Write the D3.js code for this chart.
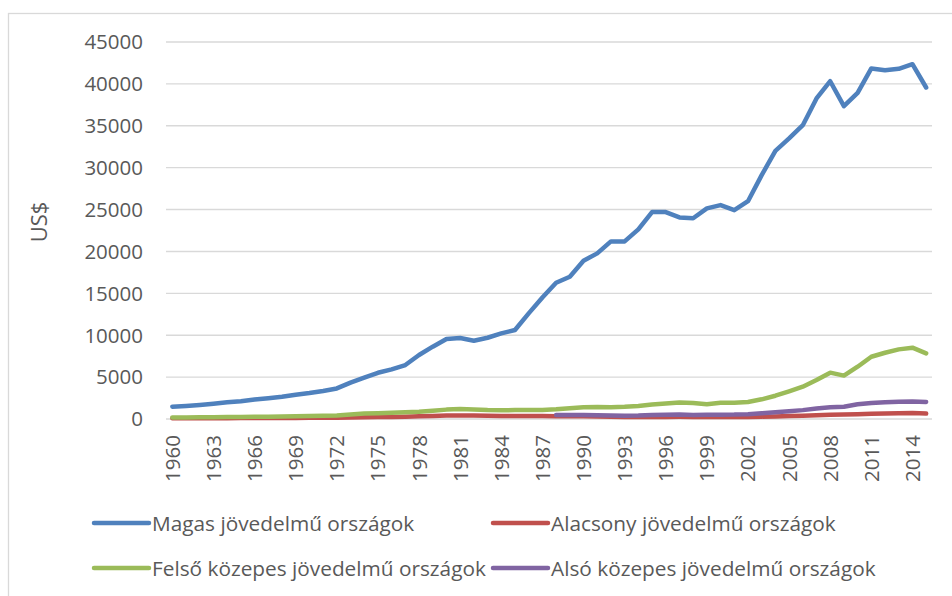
<!DOCTYPE html>
<html>
<head>
<meta charset="utf-8">
<script src="https://cdn.jsdelivr.net/npm/d3@7"></script>
<style>
  body { margin: 0; background: #fff; }
  svg { display: block; font-family: "Open Sans", sans-serif; }
  .tick-label { fill: #595959; font-size: 20.5px; }
  .legend-label { fill: #595959; font-size: 20.8px; }
</style>
</head>
<body>
<div id="chart"></div>
<script>
var years = d3.range(1960, 2016);
var yTicks = [0, 5000, 10000, 15000, 20000, 25000, 30000, 35000, 40000, 45000];

// Magas jövedelmű országok
var highIncome = [1470, 1560, 1680, 1830, 1990, 2130, 2330, 2480, 2650, 2900,
  3100, 3350, 3650, 4350, 4950, 5520, 5930, 6440, 7640, 8630,
  9540, 9660, 9340, 9700, 10220, 10620, 12610, 14500, 16260, 16980,
  18890, 19770, 21200, 21200, 22630, 24700, 24700, 24060, 23960, 25140,
  25530, 24930, 26000, 29110, 32010, 33490, 35070, 38260, 40320, 37340,
  38930, 41840, 41640, 41800, 42350, 39570];
// Alacsony jövedelmű országok
var lowIncome = [80, 85, 90, 95, 100, 110, 115, 120, 125, 130,
  140, 150, 160, 190, 220, 240, 250, 280, 320, 360,
  410, 430, 410, 390, 370, 360, 360, 350, 340, 330,
  330, 310, 270, 250, 230, 240, 250, 260, 250, 240,
  240, 240, 250, 280, 310, 350, 390, 450, 520, 530,
  570, 620, 660, 690, 710, 650];
// Felső közepes jövedelmű országok
var upperMiddle = [180, 190, 200, 210, 230, 250, 270, 280, 300, 320,
  350, 380, 430, 530, 650, 700, 740, 800, 870, 980,
  1120, 1180, 1120, 1060, 1040, 1060, 1060, 1080, 1160, 1280,
  1390, 1430, 1390, 1450, 1560, 1720, 1840, 1960, 1900, 1760,
  1940, 1950, 2030, 2350, 2780, 3300, 3860, 4650, 5530, 5180,
  6240, 7430, 7910, 8310, 8510, 7840];
// Alsó közepes jövedelmű országok (1988-tól)
var lowerMiddle = [null, null, null, null, null, null, null, null, null, null,
  null, null, null, null, null, null, null, null, null, null,
  null, null, null, null, null, null, null, null, 480, 470,
  470, 450, 410, 400, 410, 470, 510, 530, 490, 500,
  520, 530, 580, 680, 800, 920, 1060, 1250, 1400, 1470,
  1750, 1920, 2000, 2060, 2100, 2030];

var seriesNames = ["Magas jövedelmű országok", "Alacsony jövedelmű országok",
  "Felső közepes jövedelmű országok", "Alsó közepes jövedelmű országok"];
var seriesColors = ["#4f81bd", "#c0504d", "#9bbb59", "#8064a2"];
var seriesValues = [highIncome, lowIncome, upperMiddle, lowerMiddle];

var width = 952, height = 596;

var svg = d3.select("#chart").append("svg")
  .attr("width", width)
  .attr("height", height);

// chart border
svg.append("rect")
  .attr("x", 8.5).attr("y", 13.5)
  .attr("width", 980).attr("height", 620)
  .attr("fill", "none")
  .attr("stroke", "#d9d9d9")
  .attr("stroke-width", 1.3);

var x = d3.scaleBand()
  .domain(years)
  .range([165.5, 933])
  .paddingInner(0);

var y = d3.scaleLinear()
  .domain([0, 45000])
  .range([419, 42]);

function cx(yr) { return x(yr) + x.bandwidth() / 2; }

// gridlines
svg.append("g")
  .selectAll("line")
  .data(yTicks)
  .enter().append("line")
    .attr("x1", 166).attr("x2", 932)
    .attr("y1", function(d) { return y(d); })
    .attr("y2", function(d) { return y(d); })
    .attr("stroke", "#d9d9d9")
    .attr("stroke-width", 1.4);

// y tick labels
svg.append("g")
  .selectAll("text")
  .data(yTicks)
  .enter().append("text")
    .attr("class", "tick-label")
    .attr("x", 143)
    .attr("y", function(d) { return y(d); })
    .attr("dy", "0.36em")
    .attr("text-anchor", "end")
    .text(function(d) { return d; });

// y axis title
svg.append("text")
  .attr("class", "tick-label")
  .attr("transform", "translate(47,222) rotate(-90)")
  .attr("text-anchor", "middle")
  .style("font-size", "22px")
  .text("US$");

// x labels every 3 years
svg.append("g")
  .selectAll("text")
  .data(years.filter(function(d) { return (d - 1960) % 3 == 0; }))
  .enter().append("text")
    .attr("class", "tick-label")
    .attr("transform", function(d) { return "translate(" + (cx(d) + 7.5) + ",435) rotate(-90)"; })
    .attr("text-anchor", "end")
    .text(function(d) { return d; });

// lines
var line = d3.line()
  .defined(function(d) { return d.v != null; })
  .x(function(d) { return cx(d.year); })
  .y(function(d) { return y(d.v); });

seriesValues.forEach(function(vals, i) {
  var pts = years.map(function(yr, j) { return {year: yr, v: vals[j]}; });
  svg.append("path")
    .datum(pts)
    .attr("d", line)
    .attr("fill", "none")
    .attr("stroke", seriesColors[i])
    .attr("stroke-width", 4.5)
    .attr("stroke-linejoin", "round")
    .attr("stroke-linecap", "round");
});

// legend
var legendPos = [[94, 523], [493, 523], [94, 568], [493, 568]];
seriesNames.forEach(function(name, i) {
  var p = legendPos[i];
  var g = svg.append("g").attr("transform", "translate(" + p[0] + "," + p[1] + ")");
  g.append("line")
    .attr("x1", 0).attr("x2", 55)
    .attr("stroke", seriesColors[i])
    .attr("stroke-width", 4.5)
    .attr("stroke-linecap", "round");
  g.append("text")
    .attr("class", "legend-label")
    .attr("x", 58)
    .attr("dy", "0.36em")
    .text(name);
});
</script>
</body>
</html>
